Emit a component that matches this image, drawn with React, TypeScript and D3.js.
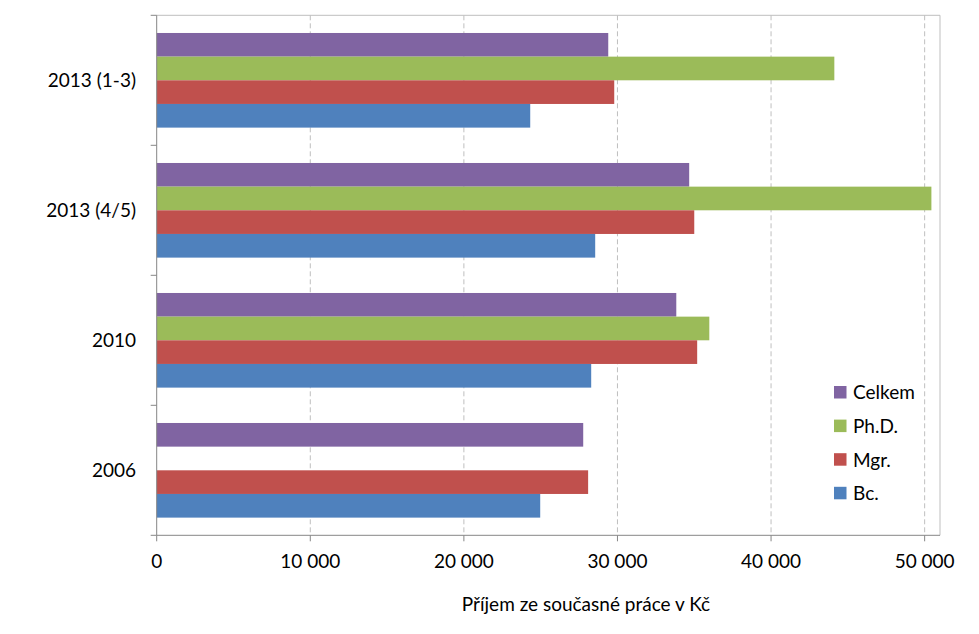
import React from 'react';
import * as d3 from 'd3';

// categories, top to bottom
const categories = ['2013 (1-3)', '2013 (4/5)', '2010', '2006'];
// series, top to bottom inside each group
const seriesNames = ['Celkem', 'Ph.D.', 'Mgr.', 'Bc.'];
const seriesColors = ['#8064A2', '#9BBB59', '#C0504D', '#4F81BD'];

const celkem = [29400, 34670, 33830, 27770];
const phd = [44120, 50440, 35980, null];
const mgr = [29790, 35000, 35190, 28090];
const bc = [24320, 28550, 28290, 24970];

const xTicks = [0, 10000, 20000, 30000, 40000, 50000];
const xTitle = 'Příjem ze současné práce v Kč';

const W = 979;
const H = 634;
const margin = { top: 15.3, right: 39, bottom: 98.7, left: 156.7 };
const font = 'Lato, "Open Sans", sans-serif';
const fs = 19;

export default function App() {
  const series = [celkem, phd, mgr, bc];

  const x = d3.scaleLinear().domain([0, 51000]).range([margin.left, W - margin.right]);
  const y = d3.scaleBand<string>().domain(categories).range([margin.top, H - margin.bottom]);
  const bw = y.bandwidth();
  const ySub = d3
    .scaleBand<string>()
    .domain(seriesNames)
    .range([bw * 0.136, bw * 0.864]);

  const fmt = d3.formatLocale({ decimal: ',', thousands: ' ', grouping: [3], currency: ['', ' Kč'] }).format(',d');

  const x0 = x.range()[0];
  const x1 = x.range()[1];
  const y0 = y.range()[0];
  const y1 = y.range()[1];
  const boundaries = categories.map((c) => y(c)!).concat([y1]);

  return (
    <div style={{ position: 'absolute', left: 0, top: 0 }}>
      <svg width={W} height={H} style={{ display: 'block', background: '#fff' }}>
        {/* gridlines */}
        {xTicks
          .filter((t) => t > 0)
          .map((t) => (
            <line key={'g' + t} x1={x(t)} x2={x(t)} y1={y0} y2={y1} stroke="#bfbfbf" strokeWidth={1} strokeDasharray="5,3" />
          ))}
        {/* plot border top / right */}
        <line x1={x0} x2={x1} y1={y0} y2={y0} stroke="#bfbfbf" />
        <line x1={x1} x2={x1} y1={y0} y2={y1} stroke="#bfbfbf" />

        {/* bars */}
        {categories.map((c, ci) => (
          <g key={c} transform={`translate(0,${y(c)})`}>
            {seriesNames.map((s, si) => {
              const v = series[si][ci];
              if (v == null) return null;
              return (
                <rect
                  key={s}
                  x={x(0)}
                  y={ySub(s)}
                  width={x(v) - x(0)}
                  height={ySub.bandwidth()}
                  fill={seriesColors[si]}
                />
              );
            })}
          </g>
        ))}

        {/* axes */}
        <line x1={x0} x2={x0} y1={y0} y2={y1} stroke="#868686" />
        <line x1={x0} x2={x1} y1={y1} y2={y1} stroke="#868686" />
        {boundaries.map((b, i) => (
          <line key={'yt' + i} x1={x0 - 6} x2={x0} y1={b} y2={b} stroke="#868686" />
        ))}
        {xTicks.map((t) => (
          <g key={'xt' + t}>
            <line x1={x(t)} x2={x(t)} y1={y1} y2={y1 + 6} stroke="#868686" />
            <text x={x(t)} y={y1 + 33} textAnchor="middle" fontFamily={font} fontSize={fs} fill="#000">
              {fmt(t)}
            </text>
          </g>
        ))}
        {categories.map((c) => (
          <text
            key={'cl' + c}
            x={136}
            y={y(c)! + bw / 2}
            dy="0.36em"
            textAnchor="end"
            fontFamily={font}
            fontSize={fs}
            fill="#000"
          >
            {c}
          </text>
        ))}
        <text x={586} y={611} textAnchor="middle" fontFamily={font} fontSize={fs} fill="#000">
          {xTitle}
        </text>

        {/* legend */}
        {seriesNames.map((s, i) => (
          <g key={'lg' + s} transform={`translate(834,${386 + i * 33.6})`}>
            <rect width={12.5} height={12.5} fill={seriesColors[i]} />
            <text x={19} y={6.5} dy="0.36em" fontFamily={font} fontSize={fs} fill="#000">
              {s}
            </text>
          </g>
        ))}
      </svg>
    </div>
  );
}
